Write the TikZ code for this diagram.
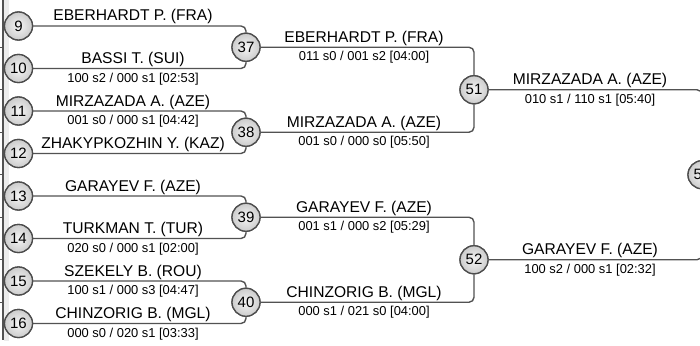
\documentclass[tikz,border=0pt]{standalone}
\usepackage{fontspec}
\setmainfont{Liberation Sans}
\begin{document}
\begin{tikzpicture}[x=1pt,y=-1pt,
  seed/.style={circle,draw=black!70,line width=1.3pt,minimum size=28pt,inner sep=0pt,
     inner color=white!92!gray,outer color=gray!40,font=\fontsize{15}{15}\selectfont},
  conn/.style={draw=black!68,line width=1.4pt,rounded corners=5pt},
  pname/.style={anchor=base,inner sep=0pt,font=\fontsize{15.6}{16}\selectfont},
  pscore/.style={anchor=base,inner sep=0pt,font=\fontsize{12.9}{13}\selectfont},
  edge/.style={draw=black!68,line width=1.2pt}]
\useasboundingbox (0,0) rectangle (700,345);
\clip (0,0) rectangle (700,345);
% left edge
\fill[gray!15] (3.8,0) rectangle (8.5,341);
\draw[edge] (3,0) -- (3,340);
\foreach \yy in {47,89.5,132,174.5,217,259.5,302} \draw[edge,line width=0.9pt] (0,\yy) -- (3,\yy);
% round 1
\node[seed] (c9) at (18.5,26) {9};
\node[seed] (c10) at (18.5,68.5) {10};
\node[seed] (c11) at (18.5,111) {11};
\node[seed] (c12) at (18.5,153.5) {12};
\node[seed] (c13) at (18.5,196) {13};
\node[seed] (c14) at (18.5,238.5) {14};
\node[seed] (c15) at (18.5,281) {15};
\node[seed] (c16) at (18.5,323.5) {16};
% round 2
\node[seed] (c37) at (246,47.25) {37};
\node[seed] (c38) at (246,132.25) {38};
\node[seed] (c39) at (246,217.25) {39};
\node[seed] (c40) at (246,302.25) {40};
% round 3
\node[seed] (c51) at (474,89.75) {51};
\node[seed] (c52) at (474,259.75) {52};
% round 4
\node[seed] (c53) at (702,174.75) {53};
% connectors
\begin{scope}[on background layer/.style={}]
\end{scope}
\draw[conn] (c9) -| (c37);
\draw[conn] (c10) -| (c37);
\draw[conn] (c11) -| (c38);
\draw[conn] (c12) -| (c38);
\draw[conn] (c13) -| (c39);
\draw[conn] (c14) -| (c39);
\draw[conn] (c15) -| (c40);
\draw[conn] (c16) -| (c40);
\draw[conn] (c37) -| (c51);
\draw[conn] (c38) -| (c51);
\draw[conn] (c39) -| (c52);
\draw[conn] (c40) -| (c52);
\draw[conn] (c51) -| (c53);
\draw[conn] (c52) -| (c53);
% redraw circles on top
\foreach \n/\xx/\yy in {9/18.5/26,10/18.5/68.5,11/18.5/111,12/18.5/153.5,13/18.5/196,14/18.5/238.5,15/18.5/281,16/18.5/323.5,37/246/47.25,38/246/132.25,39/246/217.25,40/246/302.25,51/474/89.75,52/474/259.75,53/702/174.75}
  \node[seed] at (\xx,\yy) {\n};
% names round 1
\node[pname] (n9) at (133,21) {EBERHARDT P. (FRA)};
\node[pname] (n10) at (133,63.5) {BASSI T. (SUI)};
\node[pname] (n11) at (133,106) {MIRZAZADA A. (AZE)};
\node[pname] (n12) at (133,148.5) {ZHAKYPKOZHIN Y. (KAZ)};
\node[pname] (n13) at (133,191) {GARAYEV F. (AZE)};
\node[pname] (n14) at (133,233.5) {TURKMAN T. (TUR)};
\node[pname] (n15) at (133,276) {SZEKELY B. (ROU)};
\node[pname] (n16) at (133,318.5) {CHINZORIG B. (MGL)};
\node[pscore] (s10) at (133,82) {100 s2 / 000 s1 [02:53]};
\node[pscore] (s11) at (133,124.5) {001 s0 / 000 s1 [04:42]};
\node[pscore] (s14) at (133,252) {020 s0 / 000 s1 [02:00]};
\node[pscore] (s15) at (133,294.5) {100 s1 / 000 s3 [04:47]};
\node[pscore] (s16) at (133,337) {000 s0 / 020 s1 [03:33]};
% round 2
\node[pname] (n37) at (364,42.25) {EBERHARDT P. (FRA)};
\node[pscore] (s37) at (364,60.75) {011 s0 / 001 s2 [04:00]};
\node[pname] (n38) at (364,127.25) {MIRZAZADA A. (AZE)};
\node[pscore] (s38) at (364,145.75) {001 s0 / 000 s0 [05:50]};
\node[pname] (n39) at (364,212.25) {GARAYEV F. (AZE)};
\node[pscore] (s39) at (364,230.75) {001 s1 / 000 s2 [05:29]};
\node[pname] (n40) at (364,297.25) {CHINZORIG B. (MGL)};
\node[pscore] (s40) at (364,315.75) {000 s1 / 021 s0 [04:00]};
% round 3
\node[pname] (n51) at (590,84.75) {MIRZAZADA A. (AZE)};
\node[pscore] (s51) at (590,103.25) {010 s1 / 110 s1 [05:40]};
\node[pname] (n52) at (590,254.75) {GARAYEV F. (AZE)};
\node[pscore] (s52) at (590,273.25) {100 s2 / 000 s1 [02:32]};
\end{tikzpicture}
\end{document}
